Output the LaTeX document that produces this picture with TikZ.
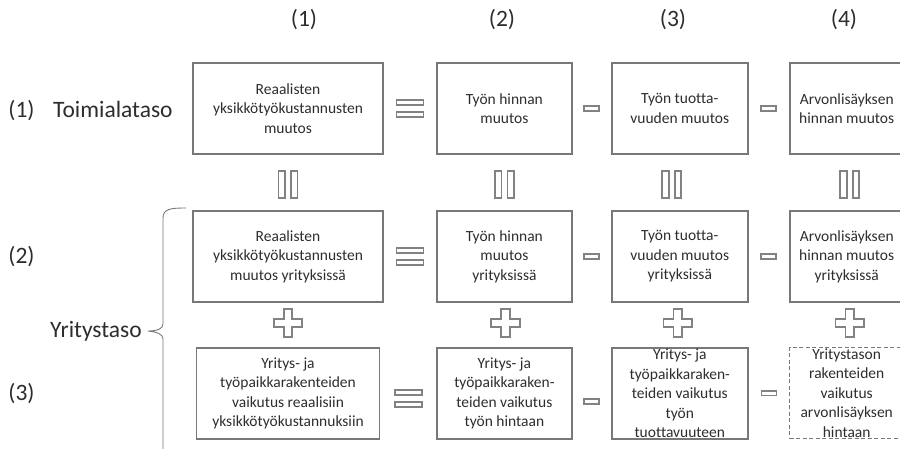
\documentclass[tikz,border=0pt]{standalone}
\usepackage{fontspec}
\setmainfont{Carlito}[Ligatures=NoCommon]
\usetikzlibrary{positioning, calc}
\definecolor{boxgray}{RGB}{120,120,120}
\definecolor{opgray}{RGB}{130,130,130}
\definecolor{txtgray}{RGB}{45,45,45}
\tikzstyle{block} = [rectangle, draw=boxgray, line width=1.9pt, text=txtgray, align=center,
    font=\fontsize{15.5}{19.5}\selectfont, minimum height=91pt, inner sep=1pt]
\tikzstyle{dblock} = [block, line width=1.2pt, dash pattern=on 4pt off 2.5pt]
\tikzstyle{levtext} = [text=txtgray, font=\fontsize{23.5}{28}\selectfont, inner sep=0pt]
\tikzstyle{oper} = [draw=opgray, line width=1.8pt, fill=white]
\tikzset{
    eqsign/.pic={\draw[oper] (-13.5,-8.3) rectangle (13.5,-3.3);
                 \draw[oper] (-13.5,3.3) rectangle (13.5,8.3);},
    veqsign/.pic={\draw[oper] (-9.5,-13.3) rectangle (-3,13.3);
                  \draw[oper] (3,-13.3) rectangle (9.5,13.3);},
    minussign/.pic={\draw[oper] (-7.5,-2.3) rectangle (7.5,2.3);},
    plussign/.pic={\draw[oper] (-4.25,-14.25) -- (4.25,-14.25) -- (4.25,-4.25) -- (14.25,-4.25)
        -- (14.25,4.25) -- (4.25,4.25) -- (4.25,14.25) -- (-4.25,14.25) -- (-4.25,4.25)
        -- (-14.25,4.25) -- (-14.25,-4.25) -- (-4.25,-4.25) -- cycle;}
}

\begin{document}
\begin{tikzpicture}[x=1pt, y=-1pt]
        \useasboundingbox (0,0) rectangle (900,449);
        % Column headers
        \node [levtext] (head1) at (304,20) {(1)};
        \node [levtext] (head2) at (502,20) {(2)};
        \node [levtext] (head3) at (673,20) {(3)};
        \node [levtext] (head4) at (844,20) {(4)};
        % Row labels
        \node [levtext, anchor=base] (row1) at (21.5,118) {(1)};
        \node [levtext, anchor=base west] (toimiala) at (53,118) {Toimialataso};
        \node [levtext, anchor=base] (row2) at (21.5,264) {(2)};
        \node [levtext, anchor=base] (row3) at (21.5,400) {(3)};
        \node [levtext, anchor=base west] (yritys) at (50,337) {Yritystaso};
        % Place nodes
        \node [block, minimum width=190pt] (r1c1) at (288,108.5) {Reaalisten\\yksikkötyökustannusten\\muutos};
        \node [block, minimum width=135pt, right=52pt of r1c1] (r1c2) {Työn hinnan\\muutos};
        \node [block, minimum width=136pt, right=38pt of r1c2] (r1c3) {Työn tuotta-\\vuuden muutos};
        \node [block, minimum width=114pt, right=40pt of r1c3] (r1c4) {Arvonlisäyksen\\hinnan muutos};
        \node [block, minimum width=190pt, below=55pt of r1c1] (r2c1) {Reaalisten\\yksikkötyökustannusten\\muutos yrityksissä};
        \node [block, minimum width=135pt, below=55pt of r1c2] (r2c2) {Työn hinnan\\muutos\\yrityksissä};
        \node [block, minimum width=136pt, below=55pt of r1c3] (r2c3) {Työn tuotta-\\vuuden muutos\\yrityksissä};
        \node [block, minimum width=114pt, below=55pt of r1c4] (r2c4) {Arvonlisäyksen\\hinnan muutos\\yrityksissä};
        \node [block, minimum width=183pt, below=44pt of r2c1] (r3c1) {Yritys- ja\\työpaikkarakenteiden\\vaikutus reaalisiin\\yksikkötyökustannuksiin};
        \node [block, minimum width=135pt, below=44pt of r2c2] (r3c2) {Yritys- ja\\työpaikkaraken-\\teiden vaikutus\\työn hintaan};
        \node [block, minimum width=136pt, inner ysep=0pt, below=44pt of r2c3] (r3c3) {Yritys- ja\\työpaikkaraken-\\teiden vaikutus\\työn\\tuottavuuteen};
        \node [dblock, minimum width=114pt, inner ysep=0pt, below=44pt of r2c4] (r3c4) {Yritystason\\rakenteiden\\vaikutus\\arvonlisäyksen\\hintaan};
        % Operators
        \pic at ($(r1c1.east)!0.5!(r1c2.west)$) {eqsign};
        \pic at ($(r1c2.east)!0.5!(r1c3.west)$) {minussign};
        \pic at ($(r1c3.east)!0.5!(r1c4.west)$) {minussign};
        \pic at ($(r2c1.east)!0.5!(r2c2.west)$) {eqsign};
        \pic at ($(r2c2.east)!0.5!(r2c3.west)$) {minussign};
        \pic at ($(r2c3.east)!0.5!(r2c4.west)$) {minussign};
        \pic at ($(r3c1.east)!0.5!(r3c2.west)+(0,5)$) {eqsign};
        \pic at ($(r3c2.east)!0.5!(r3c3.west)+(0,8)$) {minussign};
        \pic at ($(r3c3.east)!0.5!(r3c4.west)$) {minussign};
        \pic at ($(r1c1.south)!0.5!(r2c1.north)+(0,2)$) {veqsign};
        \pic at ($(r1c2.south)!0.5!(r2c2.north)+(0,2)$) {veqsign};
        \pic at ($(r1c3.south)!0.5!(r2c3.north)+(-8,2)$) {veqsign};
        \pic at ($(r1c4.south)!0.5!(r2c4.north)+(3,2)$) {veqsign};
        \pic at ($(r2c1.south)!0.5!(r3c1.north)+(0,-2)$) {plussign};
        \pic at ($(r2c2.south)!0.5!(r3c2.north)+(1,-2)$) {plussign};
        \pic at ($(r2c3.south)!0.5!(r3c3.north)+(-2,-2)$) {plussign};
        \pic at ($(r2c4.south)!0.5!(r3c4.north)+(3,-2)$) {plussign};
        % Brace
        \draw [boxgray, line width=0.9pt] (186,208) .. controls (170,208) and (163,209) .. (163,218)
            -- (163,324) .. controls (163,329) and (157,331) .. (148,331)
            .. controls (157,332) and (163,334) .. (163,339) -- (163,449);
    \end{tikzpicture}
\end{document}
